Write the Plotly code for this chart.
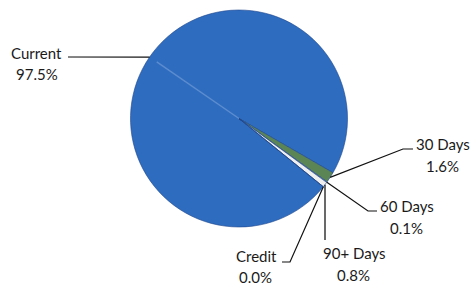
import math
import plotly.graph_objects as go

# ---- data ----
categories = ["Current", "30 Days", "60 Days", "90+ Days", "Credit"]
percent = [97.5, 1.6, 0.1, 0.8, 0.0]
colors = ["#2E6CC0", "#5C8556", "#D9D9D9", "#EFEFEF", "#9DB0C8"]

W, H = 470, 285
ROT = 129  # degrees clockwise from 12 o'clock where first slice starts

# pie geometry (pixels)
dom_x = [130 / W, 348 / W]
dom_y = [(H - 227) / H, (H - 10) / H]
cx_px = (dom_x[0] + dom_x[1]) / 2 * W
cy_px = H - (dom_y[0] + dom_y[1]) / 2 * H
r_px = min((dom_x[1] - dom_x[0]) * W, (dom_y[1] - dom_y[0]) * H) / 2

fig = go.Figure(go.Pie(
    labels=categories, values=percent, sort=False, direction="clockwise",
    rotation=ROT, textinfo="none", hoverinfo="label+percent",
    marker=dict(colors=colors, line=dict(color="rgba(30,70,140,0.6)", width=1)),
    domain=dict(x=dom_x, y=dom_y), showlegend=False,
))

# label text positions (pixels): name centre, percent centre, leader path end points
label_pos = {
    "Current": ((36.5, 52.5), (37, 74.5), [(68, 57)]),
    "30 Days": ((443, 144), (442.5, 166), [(403, 149), (413, 149)]),
    "60 Days": ((406.5, 206), (406, 227.5), [(368, 211), (377, 211)]),
    "90+ Days": ((354, 253), (353.5, 274.5), [(325, 240)]),
    "Credit": ((256, 256), (255.5, 276.5), [(290, 262), (282, 262)]),
}

def px2paper(x, y):
    return x / W, 1 - y / H

total = sum(percent)
angle = ROT
mids = {}
for cat, v in zip(categories, percent):
    span = v / total * 360
    mids[cat] = angle + span / 2
    angle += span

annotations = []
shapes = []
for cat, v in zip(categories, percent):
    (nx, ny), (vx, vy), path = label_pos[cat]
    for (tx, ty), txt in (((nx, ny), cat), ((vx, vy), f"{v:.1f}%")):
        px, py = px2paper(tx, ty)
        annotations.append(dict(x=px, y=py, xref="paper", yref="paper", text=txt,
                                showarrow=False, xanchor="center", yanchor="middle",
                                font=dict(family="Lato", size=15, color="#1a1a1a")))
    a = math.radians(mids[cat])
    ex = cx_px + r_px * math.sin(a)
    ey = cy_px - r_px * math.cos(a)
    pts = [(ex, ey)] + path
    d = "M " + " L ".join(f"{px2paper(x, y)[0]:.5f},{px2paper(x, y)[1]:.5f}" for x, y in pts)
    shapes.append(dict(type="path", path=d, xref="paper", yref="paper",
                       line=dict(color="#111111", width=1.2)))

# subtle bevel highlight along the Current slice's mid line
a = math.radians(mids["Current"])
hx = cx_px + r_px * 0.92 * math.sin(a)
hy = cy_px - r_px * 0.92 * math.cos(a)
p0 = px2paper(cx_px, cy_px)
p1 = px2paper(hx, hy)
shapes.append(dict(type="line", x0=p0[0], y0=p0[1], x1=p1[0], y1=p1[1],
                   xref="paper", yref="paper",
                   line=dict(color="rgba(255,255,255,0.22)", width=1.5)))

fig.update_layout(
    width=W, height=H, margin=dict(l=0, r=0, t=0, b=0),
    paper_bgcolor="white", plot_bgcolor="white",
    annotations=annotations, shapes=shapes,
)
fig.write_html(
    "out.html",
    config={"displayModeBar": False},
    post_script="document.body.style.margin='0px';document.body.style.overflow='hidden';",
)
